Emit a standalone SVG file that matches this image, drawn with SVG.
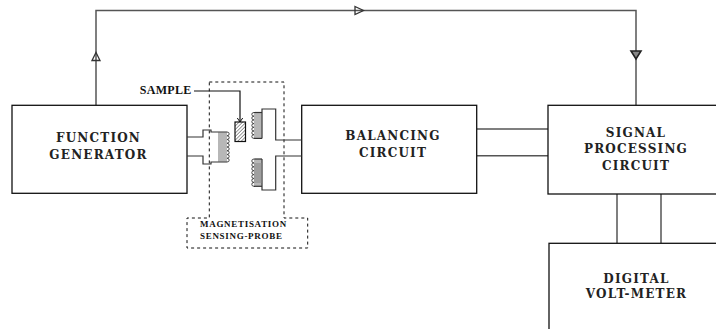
<svg xmlns="http://www.w3.org/2000/svg" width="716" height="329" viewBox="0 0 716 329">
<style>
.box{fill:#fff;stroke:#111;stroke-width:1.3}
.wire{fill:none;stroke:#555;stroke-width:1.5}
.core{fill:none;stroke:#333;stroke-width:1.2}
.bump{fill:none;stroke:#444;stroke-width:1}
.arr{fill:none;stroke:#333;stroke-width:1.3}
.lbl{font-family:"DejaVu Serif","Liberation Serif",serif;font-weight:bold;font-size:12px;letter-spacing:1.2px;fill:#222;text-anchor:middle}
.small{font-family:"Liberation Serif","Times New Roman",serif;font-weight:bold;fill:#111}
.dash{fill:none;stroke:#111;stroke-width:1;stroke-dasharray:3,3}
</style>
<defs>
<pattern id="wind" width="4" height="1.4" patternUnits="userSpaceOnUse"><line x1="0" y1="0.7" x2="4" y2="0.7" stroke="#555" stroke-width="0.7"/></pattern>
<pattern id="hatch" width="2.5" height="2.5" patternUnits="userSpaceOnUse" patternTransform="rotate(45)"><line x1="0" y1="0" x2="0" y2="2.5" stroke="#333" stroke-width="1"/></pattern>
</defs>
<rect width="716" height="329" fill="#fff"/>

<g id="connectors">
<polyline class="wire" points="96,105 96,10.5 636,10.5 636,105"/>
<path class="arr" d="M92,60.5 L96,52.5 L100,60.5 Z"/>
<path class="arr" d="M355,6.5 L363.5,10.5 L355,14.5 Z"/>
<path d="M631,51 L641,51 L636,59 Z" fill="#888" stroke="#222" stroke-width="1.6"/>
<line class="wire" x1="476.7" y1="129" x2="548" y2="129"/>
<line class="wire" x1="476.7" y1="155.7" x2="548" y2="155.7"/>
<line class="wire" x1="617" y1="194" x2="617" y2="243.3"/>
<line class="wire" x1="661" y1="194" x2="661" y2="243.3"/>
<polyline fill="none" stroke="#111" stroke-width="1.2" points="194,91 240,91 240,122"/>
<polyline fill="none" stroke="#111" stroke-width="1" points="237.3,118 240,122 242.7,118"/>
</g>

<g id="function-generator">
<rect class="box" x="12" y="105.3" width="175" height="88"/>
<text class="lbl" x="98.5" y="142">FUNCTION</text>
<text class="lbl" x="98.5" y="159">GENERATOR</text>
</g>

<g id="balancing-circuit">
<rect class="box" x="301.7" y="105.3" width="175" height="88"/>
<text class="lbl" x="393" y="140">BALANCING</text>
<text class="lbl" x="393" y="157.3">CIRCUIT</text>
</g>

<g id="signal-processing-circuit">
<rect class="box" x="548" y="105.3" width="180" height="88.7"/>
<text class="lbl" x="636" y="136.7">SIGNAL</text>
<text class="lbl" x="636" y="153.3">PROCESSING</text>
<text class="lbl" x="636" y="170">CIRCUIT</text>
</g>

<g id="digital-volt-meter">
<rect class="box" x="549" y="243.3" width="180" height="100"/>
<text class="lbl" x="636.5" y="282.7">DIGITAL</text>
<text class="lbl" x="636.5" y="298.3">VOLT-METER</text>
</g>

<g id="magnetisation-sensing-probe">
<polygon class="dash" points="209.3,82 284,82 284,218 307.7,218 307.7,248 187,248 187,218 209.3,218"/>
<text class="small" x="200" y="227.3" font-size="9" letter-spacing="0.7">MAGNETISATION</text>
<text class="small" x="200" y="239.3" font-size="9" letter-spacing="0.7">SENSING-PROBE</text>
<!-- excitation coil -->
<path class="core" d="M187,137 H203 V130 H211 V132 H227 M187,156 H203 V164 H211 V162 H227"/>
<rect x="218" y="132" width="9" height="30" fill="url(#wind)"/>
<path class="bump" d="M227,132 a2.2,1.875 0 0 1 0,3.75 a2.2,1.875 0 0 1 0,3.75 a2.2,1.875 0 0 1 0,3.75 a2.2,1.875 0 0 1 0,3.75 a2.2,1.875 0 0 1 0,3.75 a2.2,1.875 0 0 1 0,3.75 a2.2,1.875 0 0 1 0,3.75 a2.2,1.875 0 0 1 0,3.75"/>
<!-- pickup coils -->
<path class="core" d="M301.7,140 H275.7 V109 H262 V138.4 M301.7,156 H275.7 V190 H262 V159"/>
<rect x="254" y="112.5" width="8" height="25.9" fill="url(#wind)"/>
<rect x="254" y="159" width="8" height="27.3" fill="url(#wind)"/>
<rect x="254" y="163" width="8" height="20" fill="#888" opacity="0.5"/>
<path class="bump" d="M254,112.5 a2.2,1.85 0 0 0 0,3.7 a2.2,1.85 0 0 0 0,3.7 a2.2,1.85 0 0 0 0,3.7 a2.2,1.85 0 0 0 0,3.7 a2.2,1.85 0 0 0 0,3.7 a2.2,1.85 0 0 0 0,3.7 a2.2,1.85 0 0 0 0,3.7"/>
<path class="bump" d="M254,159 a2.2,1.95 0 0 0 0,3.9 a2.2,1.95 0 0 0 0,3.9 a2.2,1.95 0 0 0 0,3.9 a2.2,1.95 0 0 0 0,3.9 a2.2,1.95 0 0 0 0,3.9 a2.2,1.95 0 0 0 0,3.9 a2.2,1.95 0 0 0 0,3.9"/>
<line class="core" x1="254" y1="112.5" x2="262" y2="112.5"/>
<line class="core" x1="254" y1="138.4" x2="262" y2="138.4"/>
<line class="core" x1="254" y1="159" x2="262" y2="159"/>
<line class="core" x1="254" y1="186.3" x2="262" y2="186.3"/>
</g>

<g id="sample">
<rect x="235" y="122" width="10.5" height="19.5" fill="url(#hatch)" stroke="#111" stroke-width="1.2"/>
<text class="small" x="191.5" y="94" font-size="12" letter-spacing="0.3" text-anchor="end">SAMPLE</text>
</g>
</svg>
